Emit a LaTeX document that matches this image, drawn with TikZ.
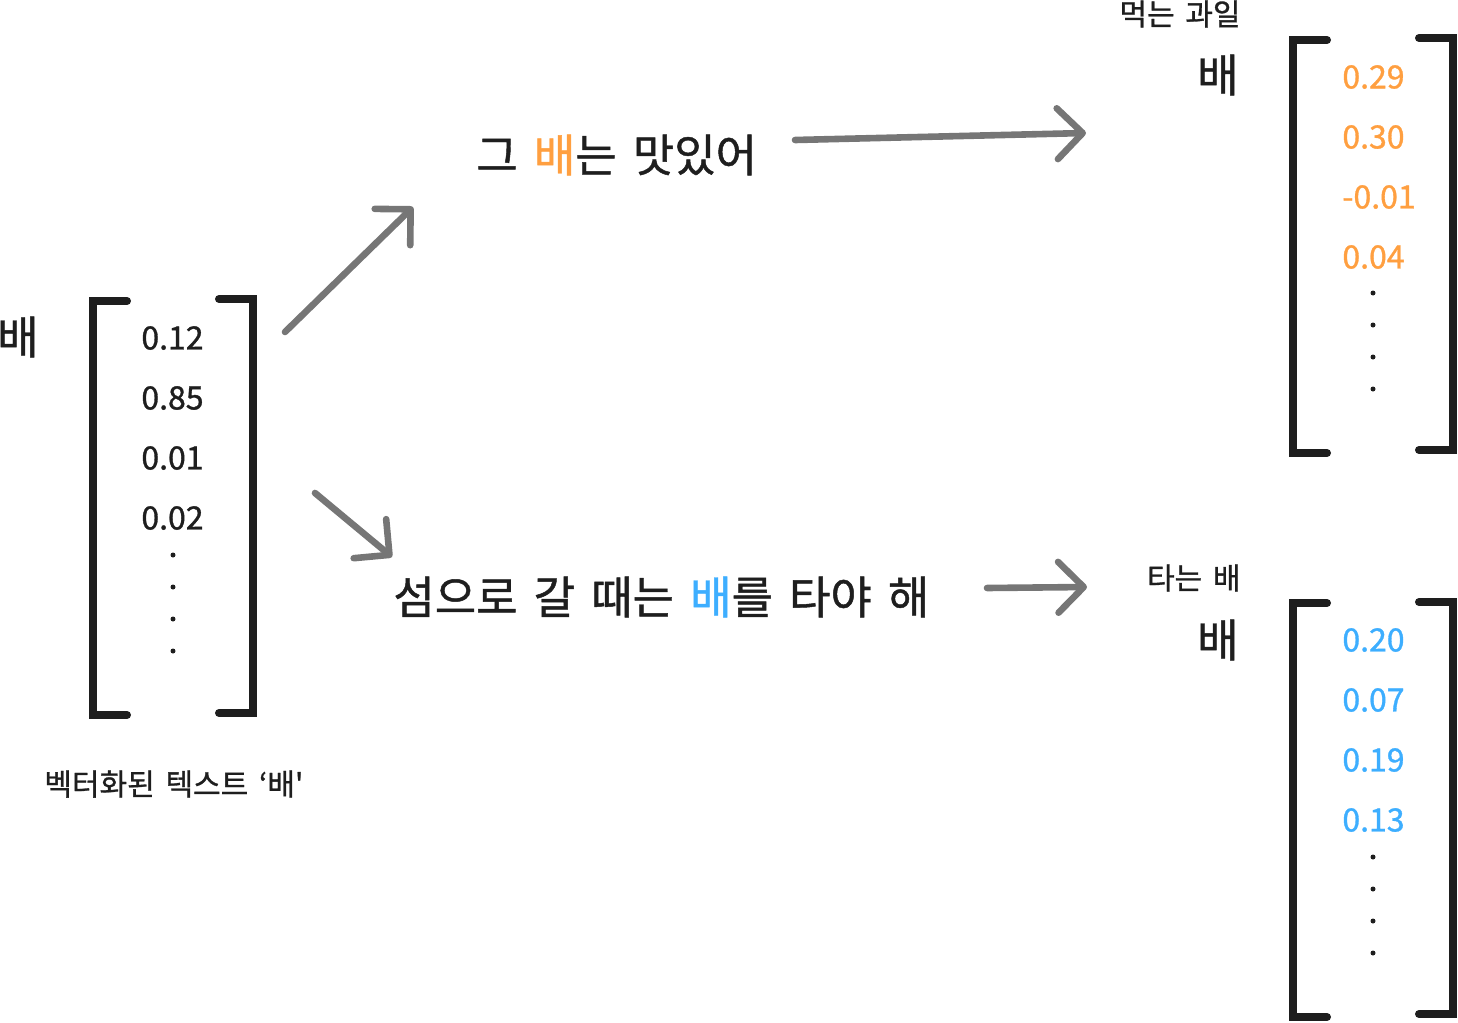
\documentclass[tikz,border=0pt]{standalone}
\usepackage{fontspec}
\setmainfont{Noto Sans CJK KR}[FakeBold=1, WordSpace=1.6]
\usetikzlibrary{arrows.meta}

\definecolor{ink}{HTML}{1E1E1E}
\definecolor{pearorange}{HTML}{FF9F40}
\definecolor{boatblue}{HTML}{3DAEFF}
\definecolor{arrowgray}{HTML}{767676}

\tikzset{
  bracket/.style={ink, line width=4pt, line cap=round, line join=miter},
  flow/.style={arrowgray, line width=3.3pt, line cap=round,
    -{Straight Barb[length=12.7pt, width=25.4pt, round]}},
  entry/.style={anchor=west, inner sep=0pt, font=\fontsize{16}{16}\selectfont},
  sentence/.style={anchor=west, inner sep=0pt, text=ink, font=\fontsize{22.5}{22.5}\selectfont},
  word/.style={anchor=east, inner sep=0pt, text=ink, font=\fontsize{22.5}{22.5}\selectfont},
  caption/.style={inner sep=0pt, text=ink, font=\fontsize{15}{15}\selectfont}
}

\begin{document}
\begin{tikzpicture}[x=0.5pt, y=-0.5pt]
    \useasboundingbox (0,0) rectangle (1458,1023);

    % Vectorized word (left)
    \node[word] (word) at (39,337) {배};
    \draw[bracket] (127,301) -- (93,301) -- (93,715) -- (127,715);
    \draw[bracket] (219,299) -- (253,299) -- (253,713) -- (219,713);
    \foreach \val [count=\i] in {0.12,0.85,0.01,0.02}
        \node[entry, text=ink] (v\i) at (141,{278+60*\i}) {\val};
    \foreach \y in {555,587,619,651}
        \fill[ink] (173,\y) circle[radius=2.5];
    \node[caption, anchor=west] (vectag) at (44,784) {벡터화된 텍스트 ‘배\textquotesingle};

    % Two sentences
    \node[sentence] (s1) at (476,155) {그 \textcolor{pearorange}{배}는 맛있어};
    \node[sentence] (s2) at (393,597) {섬으로 갈 때는 \textcolor{boatblue}{배}를 타야 해};

    % Fruit meaning (top right)
    \node[caption, anchor=east] (peartag) at (1241,14) {먹는 과일};
    \node[word] (pearword) at (1239,75) {배};
    \draw[bracket] (1327,40) -- (1293,40) -- (1293,453) -- (1327,453);
    \draw[bracket] (1419,38) -- (1453,38) -- (1453,450) -- (1419,450);
    \foreach \val [count=\i] in {0.29,0.30,-0.01,0.04}
        \node[entry, text=pearorange] (p\i) at (1342,{17+60*\i}) {\val};
    \foreach \y in {293,325,357,389}
        \fill[ink] (1373,\y) circle[radius=2.5];

    % Boat meaning (bottom right)
    \node[caption, anchor=east] (boattag) at (1241,578) {타는 배};
    \node[word] (boatword) at (1239,640) {배};
    \draw[bracket] (1327,603) -- (1293,603) -- (1293,1017) -- (1327,1017);
    \draw[bracket] (1419,602) -- (1453,602) -- (1453,1014) -- (1419,1014);
    \foreach \val [count=\i] in {0.20,0.07,0.19,0.13}
        \node[entry, text=boatblue] (b\i) at (1342,{580+60*\i}) {\val};
    \foreach \y in {857,889,921,953}
        \fill[ink] (1373,\y) circle[radius=2.5];

    % Arrows
    \coordinate (up0) at (285,332);
    \coordinate (up1) at (413,207);
    \coordinate (dn0) at (315,493);
    \coordinate (dn1) at (392,557);
    \coordinate (r10) at (795,140);
    \coordinate (r11) at (1086,133);
    \coordinate (r20) at (987,588);
    \coordinate (r21) at (1087,587);
    \draw[flow] (up0) -- (up1);
    \draw[flow] (dn0) -- (dn1);
    \draw[flow] (r10) -- (r11);
    \draw[flow] (r20) -- (r21);
\end{tikzpicture}
\end{document}
